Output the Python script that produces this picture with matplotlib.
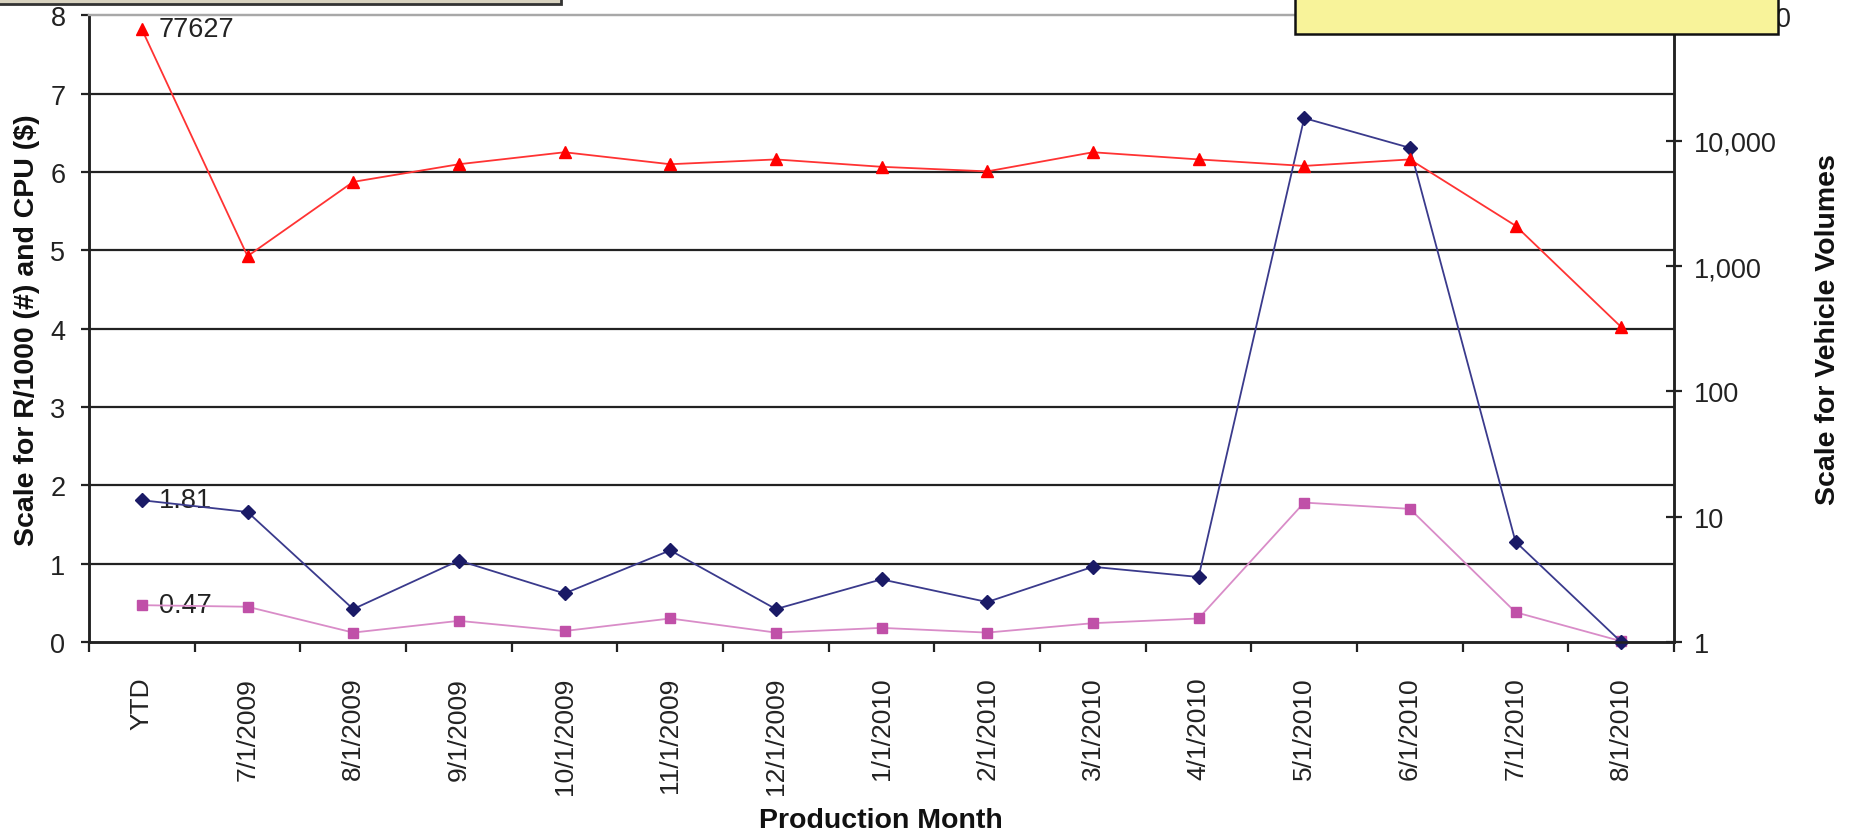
import matplotlib.pyplot as plt
import matplotlib.patches as patches
from matplotlib.ticker import FixedLocator, FuncFormatter, NullLocator
import numpy as np

plt.rcParams['font.family'] = ['Liberation Sans', 'DejaVu Sans']

months = ['YTD', '7/1/2009', '8/1/2009', '9/1/2009', '10/1/2009', '11/1/2009',
          '12/1/2009', '1/1/2010', '2/1/2010', '3/1/2010', '4/1/2010',
          '5/1/2010', '6/1/2010', '7/1/2010', '8/1/2010']

# R/1000 (left scale)
r_per_1000 = [1.81, 1.66, 0.42, 1.04, 0.62, 1.17, 0.42, 0.80, 0.51, 0.96,
              0.83, 6.69, 6.31, 1.28, 0.0]
# CPU in $ (left scale)
cpu = [0.47, 0.45, 0.12, 0.27, 0.14, 0.30, 0.12, 0.18, 0.12, 0.24,
       0.30, 1.78, 1.70, 0.38, 0.01]
# vehicle volumes (right log scale)
volumes = [77627, 1200, 4700, 6500, 8100, 6500, 7100, 6200, 5700, 8100,
           7100, 6300, 7100, 2100, 326]

x = np.arange(len(months))

fig = plt.figure(figsize=(18.51, 8.37), dpi=100)
ax = fig.add_axes([0.0481, 0.2318, 0.8563, 0.7485])
ax2 = ax.twinx()

ax.set_xlim(-0.5, len(months) - 0.5)
ax.set_ylim(0, 8)
ax.set_yticks(range(0, 9))
for v in range(1, 8):
    ax.axhline(v, color='#222222', lw=1.6, zorder=1)

ax.plot(x, r_per_1000, color='#3a3a8c', lw=1.3, marker='D', ms=7,
        mfc='#1a1a66', mec='#1a1a66', clip_on=False, zorder=5)
ax.plot(x, cpu, color='#d98cc8', lw=1.3, marker='s', ms=7,
        mfc='#c050a8', mec='#c050a8', clip_on=False, zorder=4)

ax2.set_yscale('log')
ax2.set_ylim(1, 100000)
ax2.plot(x, volumes, color='#ff3333', lw=1.3, marker='^', ms=9,
         mfc='#ff0000', mec='#ff0000', clip_on=False, zorder=6)
ax2.yaxis.set_major_locator(FixedLocator([1, 10, 100, 1000, 10000, 100000]))
ax2.yaxis.set_minor_locator(NullLocator())
ax2.yaxis.set_major_formatter(FuncFormatter(lambda v, p: f'{v:,.0f}'))

# value labels on the YTD points
ax.annotate(f'{r_per_1000[0]:.2f}', (x[0], r_per_1000[0]), xytext=(12, 0),
            textcoords='offset points', va='center', fontsize=19.5, color='#222222')
ax.annotate(f'{cpu[0]:.2f}', (x[0], cpu[0]), xytext=(12, 0),
            textcoords='offset points', va='center', fontsize=19.5, color='#222222')
ax2.annotate(f'{volumes[0]}', (x[0], volumes[0]), xytext=(12, 0),
             textcoords='offset points', va='center', fontsize=19.5, color='#222222')

# x ticks: labels at categories, marks between them
ax.set_xticks(x)
ax.set_xticklabels(months, rotation=90, fontsize=19, color='#222222')
ax.xaxis.set_minor_locator(FixedLocator(np.arange(-0.5, len(months), 1.0)))
ax.tick_params(axis='x', which='major', length=0, pad=25)
ax.tick_params(axis='x', which='minor', length=7, width=1.6, direction='out', color='#222222')
ax.tick_params(axis='y', labelsize=19.5, length=6, width=1.6, pad=11, colors='#222222')
ax2.tick_params(axis='y', labelsize=19.5, length=12, width=1.6, direction='inout',
                pad=8, colors='#222222')

for sp in ['left', 'right', 'bottom']:
    ax.spines[sp].set_color('#222222')
    ax.spines[sp].set_linewidth(1.8)
    ax2.spines[sp].set_color('#222222')
    ax2.spines[sp].set_linewidth(1.8)
ax.spines['top'].set_color('#a8a8a8')
ax2.spines['top'].set_color('#a8a8a8')
ax.spines['top'].set_linewidth(1.6)
ax2.spines['top'].set_linewidth(1.6)

ax.set_xlabel('Production Month', fontsize=20.5, fontweight='bold', color='#111111')
ax.xaxis.set_label_coords(0.4997, -0.263)
ax.set_ylabel('Scale for R/1000 (#) and CPU ($)', fontsize=20.5, fontweight='bold',
              color='#111111')
ax.yaxis.set_label_coords(-0.031, 0.5)
ax2.set_ylabel('Scale for Vehicle Volumes', fontsize=20.5, fontweight='bold',
               color='#111111')
ax2.yaxis.set_label_coords(1.089, 0.5)

# boxes cut off at the top edge
fig.add_artist(patches.Rectangle((-0.01, 0.9945), 0.313, 0.03, transform=fig.transFigure,
                                 facecolor='#d8d2bf', edgecolor='#333333', lw=2, zorder=10))
fig.add_artist(patches.Rectangle((0.6996, 0.958), 0.261, 0.06, transform=fig.transFigure,
                                 facecolor='#f8f39a', edgecolor='#111111', lw=1.8, zorder=10))

fig.savefig('out.png', dpi=100)
